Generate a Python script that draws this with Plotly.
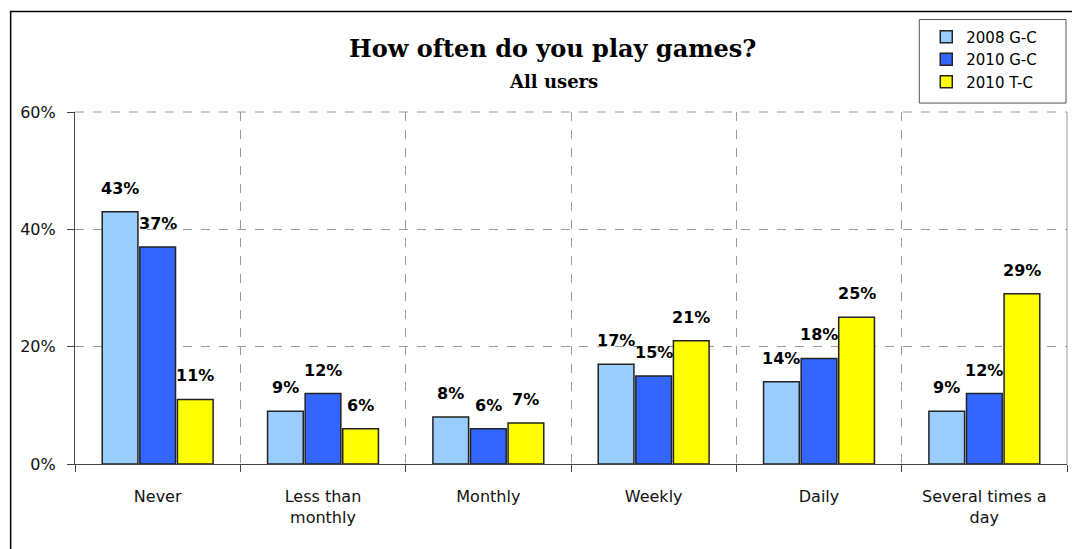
import plotly.graph_objects as go

categories = ["Never", "Less than<br>monthly", "Monthly", "Weekly", "Daily", "Several times a<br>day"]
series_names = ["2008 G-C", "2010 G-C", "2010 T-C"]
v2008_gc = [43, 9, 8, 17, 14, 9]
v2010_gc = [37, 12, 6, 15, 18, 12]
v2010_tc = [11, 6, 7, 21, 25, 29]
colors = ["#99CCFF", "#3366FF", "#FFFF00"]
y_ticks = [0, 20, 40, 60]
y_tick_labels = ["0%", "20%", "40%", "60%"]

OFF = 8  # page body margin
W, H = 1080, 549
sx0, sx1, sy0, sy1 = 73, 1067, 110, 464
ml, mt = sx0 - OFF, sy0 - OFF
mr = W - (sx1 - OFF)
mb = H - (sy1 - OFF)
pw, ph = sx1 - sx0, sy1 - sy0

def px_x(x):
    return (x - sx0) / pw

def px_y(y):
    return (sy1 - y) / ph

SANS = "DejaVu Sans"
SERIF = "DejaVu Serif"
BARGAP = 0.318
all_series = [v2008_gc, v2010_gc, v2010_tc]

fig = go.Figure()
for name, vals, col in zip(series_names, all_series, colors):
    fig.add_trace(go.Bar(
        x=categories, y=vals, name=name,
        marker=dict(color=col, line=dict(color="#222222", width=1.5)),
    ))

annotations = []
slot = (pw / len(categories)) * (1 - BARGAP) / len(all_series)
for i, vals in enumerate(all_series):
    for cat, v in zip(categories, vals):
        annotations.append(dict(
            x=cat, y=v, xref="x", yref="y", text=f"<b>{v}%</b>", showarrow=False,
            xanchor="center", yanchor="bottom", xshift=(i - 1) * slot, yshift=12,
            font=dict(family=SANS, size=16, color="black"),
        ))

annotations += [
    dict(text="<b>How often do you play games?</b>", xref="paper", yref="paper",
         x=px_x(551), y=px_y(46), xanchor="center", yanchor="middle", showarrow=False,
         font=dict(family=SERIF, size=24, color="black")),
    dict(text="<b>All users</b>", xref="paper", yref="paper",
         x=px_x(552), y=px_y(79), xanchor="center", yanchor="middle", showarrow=False,
         font=dict(family=SERIF, size=18, color="black")),
]

fig.update_layout(
    width=W, height=H,
    margin=dict(l=ml, r=mr, t=mt, b=mb),
    paper_bgcolor="white", plot_bgcolor="white",
    barmode="group", bargap=BARGAP, bargroupgap=0.05,
    font=dict(family=SANS, size=16, color="#111111"),
    showlegend=True,
    legend=dict(
        x=px_x(926), y=px_y(18), xanchor="left", yanchor="top",
        borderwidth=0, bgcolor="rgba(0,0,0,0)",
        font=dict(family=SANS, size=15, color="black"),
        itemwidth=30, tracegroupgap=0,
    ),
    xaxis=dict(
        tickson="boundaries", showgrid=True, gridcolor="#999999", griddash="dash", gridwidth=1,
        showline=True, linecolor="#444444", linewidth=1.2,
        ticks="outside", ticklen=7, tickcolor="#444444",
        tickfont=dict(family=SANS, size=16, color="#111111"),
        ticklabelstandoff=18,
        zeroline=False,
    ),
    yaxis=dict(
        range=[0, 60], tickvals=y_ticks, ticktext=y_tick_labels,
        showgrid=True, gridcolor="#999999", griddash="dash", gridwidth=1,
        showline=True, linecolor="#444444", linewidth=1.2,
        ticks="outside", ticklen=7, tickcolor="#444444",
        tickfont=dict(family=SANS, size=16, color="#111111"),
        ticklabelstandoff=8,
        zeroline=False,
    ),
    shapes=[
        dict(type="line", xref="paper", yref="paper", x0=1, x1=1, y0=0, y1=1,
             line=dict(color="#999999", width=1)),
        dict(type="line", xref="paper", yref="paper", x0=0, x1=1, y0=1, y1=1,
             line=dict(color="#999999", width=1, dash="dash")),
        dict(type="rect", xref="paper", yref="paper",
             x0=px_x(8.5), x1=px_x(W + 20), y0=px_y(H + 20), y1=px_y(9),
             line=dict(color="black", width=1.5), layer="above"),
        dict(type="rect", xref="paper", yref="paper",
             x0=px_x(919), x1=px_x(1066), y0=px_y(101), y1=px_y(17),
             line=dict(color="#555555", width=1), fillcolor="white", layer="below"),
    ],
    annotations=annotations,
)

fig.write_html("out.html")
